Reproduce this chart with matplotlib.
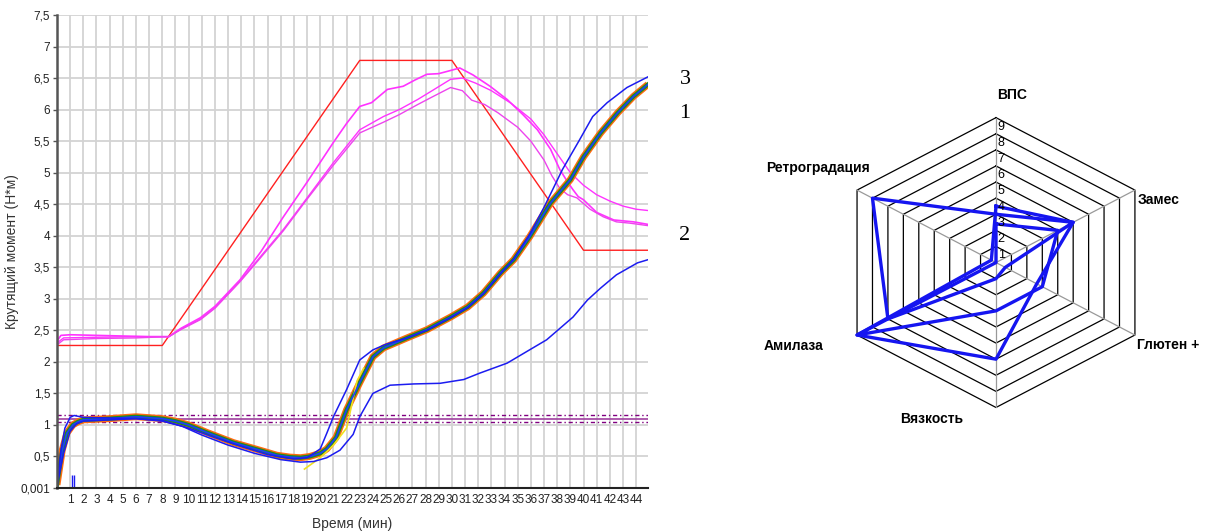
import numpy as np
import matplotlib
matplotlib.use('Agg')
import matplotlib.pyplot as plt

plt.rcParams['font.family'] = ['Liberation Sans', 'DejaVu Sans']

# temperature profile (red)
red_t = [0, 8, 23, 30, 40, 44.9]
red_v = [2.26, 2.26, 6.78, 6.78, 3.77, 3.77]

# magenta curves
m1_t = [0, 0.3, 1, 3, 5, 7, 8.5, 9.4, 10.9, 12, 13.9, 15.5, 17.2, 19, 21, 22, 23, 23.9, 25.1,
        26.3, 27.2, 28.1, 29, 29.9, 30.6, 31.6, 32.9, 34.2, 35.4, 36.5, 37.5, 38.2, 38.8, 39.2,
        39.6, 40, 41, 42.3, 43.8, 44.9]
m1_v = [2.33, 2.42, 2.43, 2.42, 2.41, 2.4, 2.4, 2.53, 2.7, 2.88, 3.3, 3.75, 4.3, 4.85, 5.48,
        5.78, 6.05, 6.11, 6.32, 6.37, 6.47, 6.56, 6.57, 6.62, 6.66, 6.55, 6.37, 6.16, 5.92, 5.68,
        5.37, 5.05, 4.85, 4.73, 4.62, 4.57, 4.37, 4.25, 4.22, 4.18]
m2_t = [0, 0.5, 3, 6, 8.5, 9.4, 10.9, 12, 13.9, 15.5, 17.2, 19, 21, 23, 24.8, 26, 27.4, 28.5,
        29.9, 30.8, 31.8, 33, 34.5, 36, 37, 38, 39, 40, 41, 42, 43, 44, 44.9]
m2_v = [2.3, 2.38, 2.39, 2.4, 2.4, 2.52, 2.68, 2.86, 3.28, 3.68, 4.1, 4.6, 5.16, 5.68, 5.89,
        6.0, 6.16, 6.3, 6.48, 6.5, 6.42, 6.3, 6.1, 5.85, 5.6, 5.3, 5.0, 4.8, 4.65, 4.55, 4.47,
        4.42, 4.4]
m3_t = [0, 0.5, 3, 6, 8.5, 9.4, 10.9, 12, 13.9, 15.5, 17.2, 19, 21, 23, 24.8, 26, 27.4, 28.5,
        29.9, 30.8, 31.5, 32.5, 33.5, 35, 36, 37, 37.6, 38.2, 38.8, 39.5, 40.5, 41.5, 42.5,
        43.5, 44.9]
m3_v = [2.27, 2.35, 2.37, 2.38, 2.4, 2.51, 2.67, 2.85, 3.27, 3.66, 4.08, 4.58, 5.12, 5.63,
        5.8, 5.92, 6.08, 6.2, 6.35, 6.3, 6.15, 6.08, 5.95, 5.72, 5.5, 5.2, 4.95, 4.75, 4.65,
        4.6, 4.42, 4.3, 4.22, 4.2, 4.16]

# consistogram band (several samples on top of each other)
band_t = [0, 0.4, 0.75, 1.2, 1.6, 2, 4, 6, 8, 9, 10, 11.4, 13.4, 15.4, 16.7, 17.7, 18.5, 19.2,
          20, 20.5, 21.2, 22, 23, 24, 24.8, 26.6, 28.1, 29.9, 31.2, 32.4, 33.7, 34.7, 35.9,
          37.5, 39, 40, 41.3, 42.6, 43.8, 44.9]
band_v = [0.05, 0.6, 0.87, 1.0, 1.05, 1.08, 1.1, 1.13, 1.1, 1.06, 1.0, 0.88, 0.72, 0.6, 0.52,
          0.49, 0.48, 0.5, 0.55, 0.62, 0.8, 1.24, 1.67, 2.08, 2.22, 2.38, 2.51, 2.71, 2.87,
          3.09, 3.41, 3.62, 3.98, 4.52, 4.89, 5.25, 5.63, 5.95, 6.21, 6.4]

# sample 3 (blue, upper)
up_t = [0, 0.3, 0.6, 1.0, 1.3, 2, 4, 6, 8, 10, 12, 14, 16, 18, 19, 20, 20.5, 21, 22, 23, 24,
        25, 26.6, 28.1, 29.9, 31.2, 32.4, 33.7, 34.7, 35.9, 37, 38.4, 39.7, 40.7, 41.8, 43.3,
        44.9]
up_v = [0.02, 0.6, 0.95, 1.12, 1.15, 1.12, 1.11, 1.1, 1.07, 0.95, 0.8, 0.66, 0.53, 0.46, 0.48,
        0.62, 0.87, 1.13, 1.56, 2.03, 2.19, 2.28, 2.38, 2.5, 2.7, 2.86, 3.08, 3.4, 3.63, 4.02,
        4.45, 5.05, 5.52, 5.89, 6.11, 6.35, 6.52]

# sample 2 (blue, lower)
lo_t = [0, 0.5, 1, 1.5, 2, 4, 6, 8, 9.5, 11, 13, 15, 17, 18.5, 19.5, 20.5, 21.5, 22.5, 23, 24,
        25.3, 27.1, 29.1, 30.9, 32.1, 34.2, 35.9, 37.2, 38.2, 39.2, 40.3, 41.3, 42.5, 44.1, 44.9]
lo_v = [0.03, 0.55, 0.9, 1.02, 1.06, 1.08, 1.1, 1.06, 0.98, 0.84, 0.68, 0.55, 0.45, 0.41, 0.42,
        0.48, 0.6, 0.85, 1.13, 1.5, 1.63, 1.65, 1.66, 1.72, 1.82, 1.98, 2.19, 2.35, 2.53, 2.71,
        2.98, 3.17, 3.38, 3.57, 3.62]

yel_t = [18.8, 20, 21, 22, 22.8, 23.3]
yel_v = [0.3, 0.48, 0.68, 0.95, 1.7, 1.9]

limit_levels = [1.05, 1.1, 1.16]

y_ticks = [0.001, 0.5, 1, 1.5, 2, 2.5, 3, 3.5, 4, 4.5, 5, 5.5, 6, 6.5, 7, 7.5]
y_labels = ['0,001', '0,5', '1', '1,5', '2', '2,5', '3', '3,5', '4', '4,5', '5', '5,5', '6',
            '6,5', '7', '7,5']
x_ticks = list(range(1, 45))

# radar
radar_names = ['ВПС', 'Замес', 'Глютен +', 'Вязкость', 'Амилаза', 'Ретроградация']
radar_a = [3, 5, 0.6, 1, 7, 8]
radar_b = [2.4, 4, 3, 3, 9, 0]
radar_c = [3.5, 5, 2.64, 6, 9, 0.3]

fig = plt.figure(figsize=(12.14, 5.31), dpi=100)
ax = fig.add_axes([57 / 1214, 43 / 531, 591 / 1214, 473 / 531])

for y in y_ticks[1:]:
    ax.axhline(y, color='#d3d3d3', lw=1.3, zorder=0)
for x in x_ticks:
    ax.axvline(x, color='#d3d3d3', lw=1.3, zorder=0)

ax.plot(red_t, red_v, color='#ff2020', lw=1.0)
ax.plot(m1_t, m1_v, color='#ff33ff', lw=1.2)
ax.plot(m2_t, m2_v, color='#ff33ff', lw=1.0)
ax.plot(m3_t, m3_v, color='#ee44ee', lw=1.0)

ax.axhline(limit_levels[1], color='#a040a0', lw=1.2)
ax.axhline(limit_levels[0], color='#800080', lw=1.0, ls=(0, (3, 2, 1, 2)))
ax.axhline(limit_levels[2], color='#800080', lw=1.0, ls=(0, (3, 2, 1, 2)))

ax.plot(band_t, band_v, color='#ff6a10', lw=5.0, solid_capstyle='butt')
ax.plot(band_t, band_v, color='#1e8c1e', lw=3.0)
ax.plot(yel_t, yel_v, color='#f0e020', lw=1.2)
ax.plot(band_t, band_v, color='#1c3cff', lw=1.2)
ax.plot(lo_t, lo_v, color='#1c1cf0', lw=1.1)
ax.plot(up_t, up_v, color='#1c1cf0', lw=1.1)
ax.vlines([1.15, 1.3], 0.02, 0.2, color='#1c1cf0', lw=1.0)

ax.set_xlim(0, 44.9)
ax.set_ylim(0, 7.5)
ax.set_yticks(y_ticks)
ax.set_yticklabels(y_labels, fontsize=8.5, color='#222222')
ax.set_xticks(x_ticks)
ax.set_xticklabels([str(t) for t in x_ticks], fontsize=8.5, color='#222222')
ax.tick_params(axis='x', length=0, pad=4)
ax.tick_params(axis='y', length=3, width=1, color='#555555', pad=2)
for s in ['top', 'right']:
    ax.spines[s].set_visible(False)
ax.spines['left'].set_color('#555555')
ax.spines['left'].set_linewidth(1.8)
ax.spines['bottom'].set_color('#222222')
ax.spines['bottom'].set_linewidth(1.5)
ax.set_ylabel('Крутящий момент (Н*м)', fontsize=10, color='#333333')
ax.yaxis.set_label_coords(-0.065, 0.5)
ax.set_xlabel('Время (мин)', fontsize=10, color='#333333', labelpad=8)

for txt, ypx in zip(['3', '1', '2'], [80, 113, 236]):
    fig.text(685 / 1214, 1 - ypx / 531, txt, fontsize=16, family='Liberation Serif',
             ha='center', va='center')

# radar chart
rx = fig.add_axes([740 / 1214, 91 / 531, 474 / 1214, 380 / 531])
rx.set_xlim(-14.36, 12.23)
rx.set_ylim(-11.02, 12.58)
rx.axis('off')
ang = np.deg2rad([90, 30, -30, -90, -150, 150])
cx, cy = np.cos(ang), np.sin(ang)
for k in range(1, 10):
    rx.plot(np.append(cx, cx[0]) * k, np.append(cy, cy[0]) * k, color='black', lw=0.9)
for i in range(6):
    rx.plot([0, cx[i] * 9], [0, cy[i] * 9], color='#999999', lw=0.9)
for k in range(1, 10):
    rx.text(0.1, k - 0.55, str(k), fontsize=9, ha='left', va='center')
for vals in [radar_a, radar_b, radar_c]:
    v = np.array(vals + vals[:1])
    rx.plot(np.append(cx, cx[0]) * v, np.append(cy, cy[0]) * v, color='#1515f0', lw=2.4)

lab_pos = [(0.9, 10.4, 'center'), (7.96, 3.88, 'left'), (7.9, -5.12, 'left'),
           (-3.59, -9.72, 'center'), (-11.33, -5.19, 'center'), (-9.98, 5.87, 'center')]
for name, (lx, ly, ha) in zip(radar_names, lab_pos):
    rx.text(lx, ly, name, fontsize=10, fontweight='bold', ha=ha, va='center')

fig.savefig('out.png', dpi=100)
